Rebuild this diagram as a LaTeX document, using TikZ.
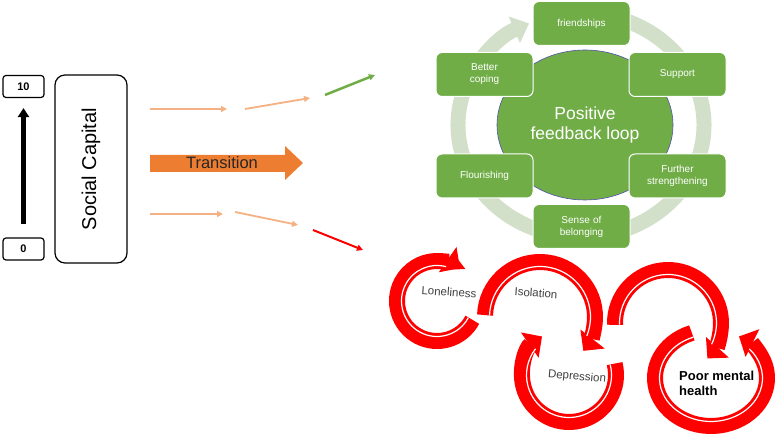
\documentclass[tikz,border=0pt]{standalone}
\usepackage{fontspec}
\setmainfont{Liberation Sans}
\usetikzlibrary{arrows.meta,shapes.geometric}
\definecolor{boxgreen}{RGB}{112,173,71}
\definecolor{ringgreen}{RGB}{210,224,202}
\definecolor{peach}{RGB}{244,177,131}
\definecolor{transorange}{RGB}{237,125,49}
\definecolor{loopred}{RGB}{255,0,0}
\definecolor{labelgray}{RGB}{64,64,64}

\begin{document}
\begin{tikzpicture}[x=1pt,y=1pt,
  scalebox/.style={draw,line width=1.2pt,rounded corners=3pt,minimum width=41pt,minimum height=22pt,inner sep=0pt,font=\bfseries\fontsize{11}{13}\selectfont},
  loopbox/.style={fill=boxgreen,draw=white,line width=1pt,rounded corners=6pt,minimum width=97pt,minimum height=44pt,text width=92pt,inner sep=0pt,align=center,text=white,font=\fontsize{10}{12}\selectfont},
  thin arrow/.style={line width=1.8pt,-{Triangle[width=6pt,length=6pt]}},
  vicious/.style={draw=loopred,line width=16pt,-{Triangle[width=30pt,length=15pt]}},
  redlabel/.style={text=labelgray,font=\fontsize{11.5}{13}\selectfont}]
\useasboundingbox (0,0) rectangle (777,438);
% scale 0 to 10
\node[scalebox] (ten) at (23.5,351.5) {10};
\node[scalebox] (zero) at (23.5,189) {0};
\draw[line width=4.5pt,-{Triangle[width=11pt,length=9pt]},shorten <=13pt,shorten >=10pt] (zero) -- (ten);
\node[draw,line width=1.2pt,rounded corners=10pt,rotate=90,minimum width=188pt,minimum height=72pt,font=\fontsize{20}{24}\selectfont] (capital) at (91,269) {Social Capital};
% transition arrows
\coordinate (u1) at (150,329); \coordinate (u2) at (227,329);
\coordinate (u3) at (245,329); \coordinate (u4) at (310,340);
\coordinate (u5) at (325,343); \coordinate (u6) at (375,363);
\coordinate (d1) at (150,224); \coordinate (d2) at (223,224);
\coordinate (d3) at (235,226); \coordinate (d4) at (298,213);
\coordinate (d5) at (313,208); \coordinate (d6) at (363,188);
\draw[thin arrow,peach] (u1) -- (u2);
\draw[thin arrow,peach] (u3) -- (u4);
\draw[thin arrow,boxgreen,line width=2.5pt] (u5) -- (u6);
\draw[thin arrow,peach] (d1) -- (d2);
\draw[thin arrow,peach] (d3) -- (d4);
\draw[thin arrow,loopred,line width=2pt] (d5) -- (d6);
\fill[transorange] (150,283) -- (285,283) -- (285,292) -- (303,275) -- (285,258) -- (285,266) -- (150,266) -- cycle;
\node[text=black!85,font=\fontsize{16.5}{18}\selectfont] (transition) at (222,275) {Transition};
% positive feedback loop
\draw[ringgreen,line width=15pt,-{Triangle[width=28pt,length=16pt]}] ({581+123*cos(70)},{313+112*sin(70)}) arc[start angle=70,end angle=-245,x radius=123,y radius=112];
\node[ellipse,fill=boxgreen,draw=blue!35!gray,line width=0.6pt,minimum width=176pt,minimum height=150pt,inner sep=0pt,align=center,text=white,font=\fontsize{17.5}{20}\selectfont] (hub) at (585,313) {Positive\\feedback loop};
\node[loopbox] (friends) at (581.5,414.5) {friendships};
\node[loopbox] (support) at (677.5,363.5) {Support};
\node[loopbox] (further) at (677.5,262) {Further\\strengthening};
\node[loopbox] (belong) at (581.5,211.5) {Sense of\\belonging};
\node[loopbox] (flourish) at (484.5,262) {Flourishing};
\node[loopbox] (coping) at (484.5,363.5) {Better\\coping};
% vicious circle
\foreach \cx/\cy/\rx/\ry/\sa/\ea/\wa in {437/137/40/40/-28/-305/-285,540/121/55/55/178/-38/-22,569/63/47/47/14/-235/-218,668/115/53/53/182/-42/-26,711/60/56/48/110/420/402}{
  \draw[vicious] ({\cx+\rx*cos(\sa)},{\cy+\ry*sin(\sa)}) arc[start angle=\sa,end angle=\ea,x radius=\rx,y radius=\ry];
  \draw[white,line width=1.2pt] ({\cx+(\rx-4.5)*cos(\sa)},{\cy+(\ry-4.5)*sin(\sa)}) arc[start angle=\sa,end angle=\wa,x radius=\rx-4.5,y radius=\ry-4.5];
}
\node[redlabel,rotate=-4] (lonely) at (449,146) {Loneliness};
\node[redlabel,rotate=-4] (isolate) at (536,145) {Isolation};
\node[redlabel,rotate=-5] (depress) at (577,61) {Depression};
\node[anchor=west,align=left,inner sep=0pt,font=\bfseries\fontsize{13}{15}\selectfont] (poor) at (679,55) {Poor mental\\health};
\end{tikzpicture}
\end{document}
